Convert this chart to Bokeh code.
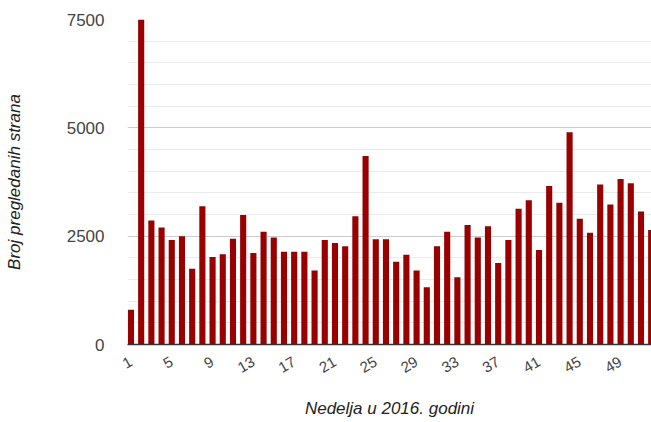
import math

from bokeh.embed import file_html
from bokeh.models import ColumnDataSource, FixedTicker
from bokeh.plotting import figure
from bokeh.resources import INLINE

# Weekly page views, 2016
weeks = list(range(1, 53))
views = [
    800, 7500, 2860, 2700, 2410, 2500, 1750, 3190, 2020, 2080,
    2440, 2990, 2110, 2600, 2470, 2140, 2140, 2140, 1710, 2410,
    2340, 2270, 2960, 4350, 2430, 2430, 1910, 2070, 1710, 1320,
    2270, 2600, 1550, 2760, 2470, 2730, 1880, 2410, 3130, 3330,
    2180, 3660, 3270, 4900, 2900, 2580, 3690, 3230, 3820, 3720,
    3070, 2640,
]
x_ticks = list(range(1, 52, 4))
y_ticks = [0, 2500, 5000, 7500]
y_minor = [v for v in range(500, 7500, 500) if v not in y_ticks]

source = ColumnDataSource(data=dict(week=weeks, views=views))

FONT = "Liberation Sans"
TEXT = "#444444"

p = figure(
    width=651, height=422,
    x_range=(0.66, 52.03), y_range=(0, 7500),
    output_backend="svg", toolbar_location=None,
    min_border_left=127, min_border_right=0,
    min_border_top=19, min_border_bottom=78,
)
p.outline_line_color = None
p.background_fill_color = "white"

p.vbar(x="week", top="views", width=0.6, source=source,
       fill_color="#990000", line_color=None)

# y axis: labels only, with major and minor horizontal gridlines
p.yaxis.ticker = FixedTicker(ticks=y_ticks, minor_ticks=y_minor)
p.yaxis.axis_line_color = None
p.yaxis.major_tick_line_color = None
p.yaxis.minor_tick_line_color = None
p.yaxis.major_tick_out = 0
p.yaxis.major_label_standoff = 19
p.yaxis.major_label_text_font = FONT
p.yaxis.major_label_text_font_size = "17px"
p.yaxis.major_label_text_color = TEXT
p.yaxis.axis_label = "Broj pregledanih strana"
p.yaxis.axis_label_text_font = FONT
p.yaxis.axis_label_text_font_style = "italic"
p.yaxis.axis_label_text_font_size = "17px"
p.yaxis.axis_label_text_color = "#222222"
p.yaxis.axis_label_standoff = 40

p.ygrid.grid_line_color = "#cccccc"
p.ygrid.minor_grid_line_color = "#ebebeb"
p.xgrid.grid_line_color = None

# x axis: dark baseline, slanted week labels
p.xaxis.ticker = FixedTicker(ticks=x_ticks)
p.xaxis.axis_line_color = "#333333"
p.xaxis.axis_line_width = 1.5
p.xaxis.major_tick_line_color = None
p.xaxis.minor_tick_line_color = None
p.xaxis.major_tick_out = 0
p.xaxis.major_label_standoff = 16
p.xaxis.major_label_orientation = math.pi / 6
p.xaxis.major_label_text_font = FONT
p.xaxis.major_label_text_font_size = "15px"
p.xaxis.major_label_text_color = TEXT
p.xaxis.axis_label = "Nedelja u 2016. godini"
p.xaxis.axis_label_text_font = FONT
p.xaxis.axis_label_text_font_style = "italic"
p.xaxis.axis_label_text_font_size = "17px"
p.xaxis.axis_label_text_color = "#222222"
p.xaxis.axis_label_standoff = 18

open("out.html", "w").write(file_html(p, INLINE))
